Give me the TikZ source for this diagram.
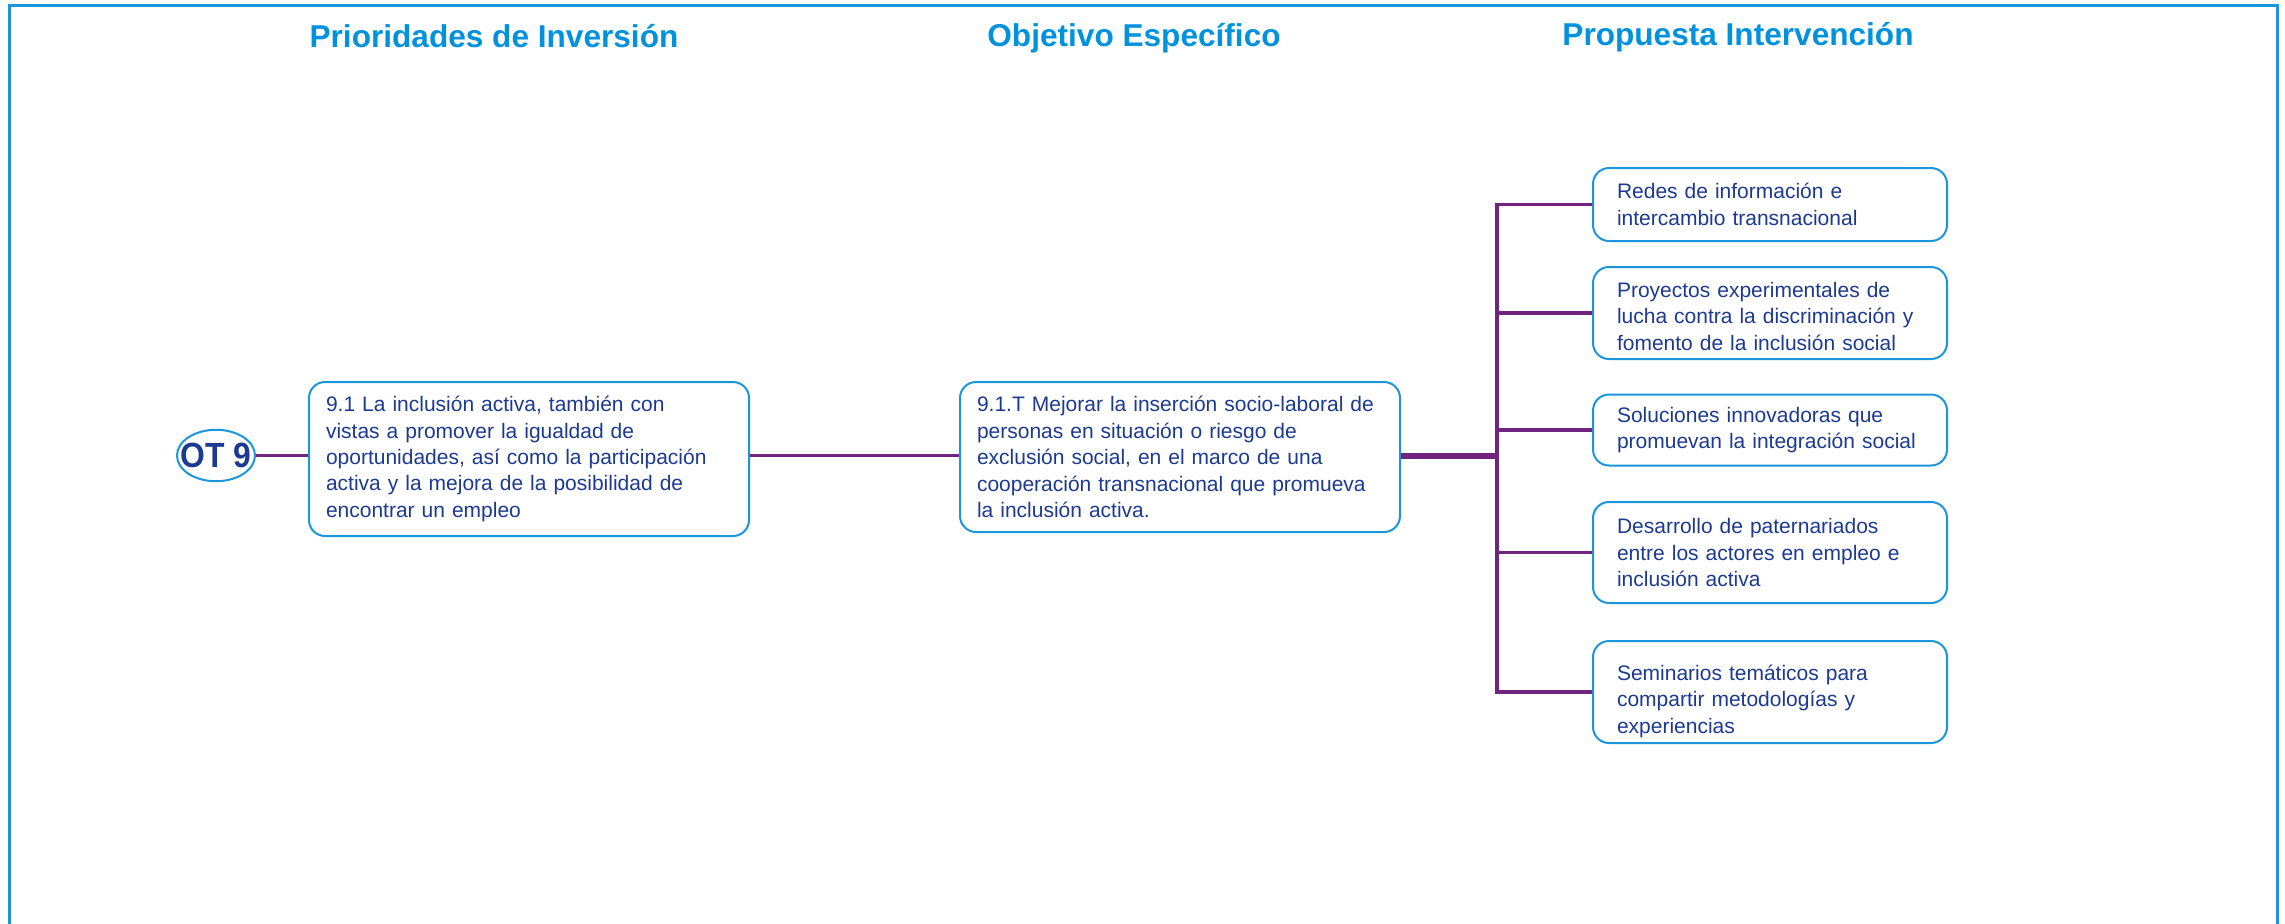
\documentclass[tikz,border=0pt]{standalone}
\usepackage{fontspec}
\setmainfont{Liberation Sans}
\usetikzlibrary{shapes.geometric}

\definecolor{headblue}{RGB}{0,146,221}
\definecolor{boxblue}{RGB}{27,150,220}
\definecolor{textnavy}{RGB}{28,58,145}
\definecolor{linkpurple}{RGB}{112,36,128}

\begin{document}
\begin{tikzpicture}[x=0.5pt, y=-0.5pt,
  head/.style={anchor=base, text=headblue, font=\fontsize{15.8}{19}\selectfont\bfseries},
  box/.style={draw=boxblue, line width=1pt, rounded corners=8pt, fill=white,
    text=textnavy, align=left, font=\fontsize{10.5}{13.2}\selectfont},
  midbox/.style={box, text width=203pt, inner xsep=8.5pt},
  sidebox/.style={box, text width=153pt, inner xsep=12pt},
  link/.style={draw=linkpurple, line width=1.8pt}]

  \useasboundingbox (0,0) rectangle (2285,923);

  %%-- OUTER FRAME (open at the bottom) --%%
  \draw[boxblue, line width=1.5pt] (9,940) -- (9,5) -- (2277,5) -- (2277,940);

  %%-- COLUMN HEADERS --%%
  \node[head] (hprio) at (494,47)  {Prioridades de Inversión};
  \node[head] (hobj)  at (1134,46) {Objetivo Específico};
  \node[head] (hprop) at (1738,45) {Propuesta Intervención};

  %%-- THEMATIC OBJECTIVE (ellipse 78 x 53) --%%
  \node[ellipse, draw=boxblue, line width=1pt, fill=white,
    inner xsep=-3.9pt, inner ysep=2.9pt, text=textnavy,
    font=\fontsize{17.5}{20}\selectfont\bfseries] (ot) at (216,455.5)
    {\scalebox{0.91}[1]{OT 9}};

  %%-- INVESTMENT PRIORITY (x = 309 to 749) --%%
  \node[midbox, minimum height=77pt] (prio) at (529,459) {%
    9.1 La inclusión activa, también con\\
    vistas a promover la igualdad de\\
    oportunidades, así como la participación\\
    activa y la mejora de la posibilidad de\\
    encontrar un empleo};

  %%-- SPECIFIC OBJECTIVE (x = 960 to 1399) --%%
  \node[midbox, minimum height=75pt] (obj) at (1180,457) {%
    9.1.T Mejorar la inserción socio-laboral de\\
    personas en situación o riesgo de\\
    exclusión social, en el marco de una\\
    cooperación transnacional que promueva\\
    la inclusión activa.};

  %%-- PROPOSED ACTIONS (x = 1593 to 1947) --%%
  \node[sidebox, minimum height=36.5pt] (r1) at (1770,204.5)
    {Redes de información e\\intercambio transnacional};
  \node[sidebox, minimum height=46pt, inner ysep=0pt] (r2) at (1770,313)
    {\rule{0pt}{11pt}Proyectos experimentales de\\lucha contra la discriminación y\\fomento de la inclusión social};
  \node[sidebox, minimum height=35.5pt] (r3) at (1770,430)
    {Soluciones innovadoras que\\promuevan la integración social};
  \node[sidebox, minimum height=50.5pt] (r4) at (1770,552.5)
    {Desarrollo de paternariados\\entre los actores en empleo e\\inclusión activa};
  \node[sidebox, minimum height=51pt, inner ysep=0pt] (r5) at (1770,692)
    {\rule{0pt}{17pt}Seminarios temáticos para\\compartir metodologías y\\experiencias};

  %%-- CONNECTORS --%%
  \coordinate (hub) at (1497,456);
  \draw[link] (ot.east) -- (prio.west |- ot.east);
  \draw[link] (prio.east |- ot.east) -- (obj.west |- ot.east);
  \draw[link, line width=3pt] (obj.east |- hub) -- (hub);
  % trunk and one branch per action
  \foreach \r in {r1,r2,r3,r4,r5} {
    \draw[link] (hub) |- (\r.west);
  }

\end{tikzpicture}
\end{document}
